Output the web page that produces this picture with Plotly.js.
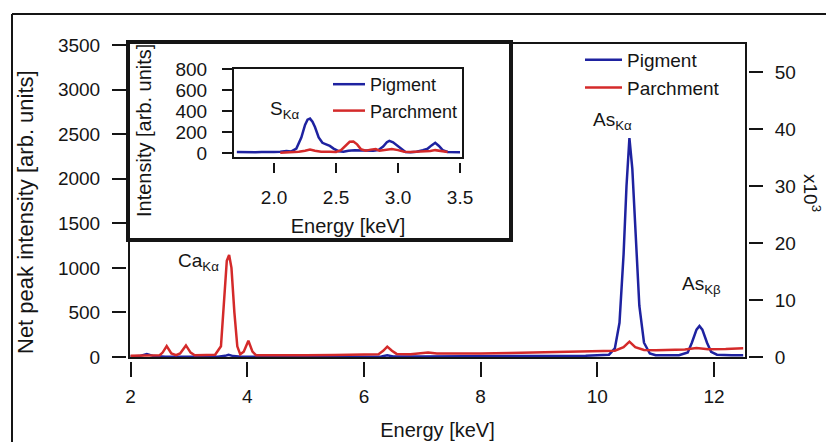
<!DOCTYPE html>
<html><head><meta charset="utf-8">
<script src="https://cdn.plot.ly/plotly-3.0.1.min.js"></script>
<style>html,body{margin:0;padding:0;background:#fff;}#chart{width:826px;height:442px;}</style>
</head><body><div id="chart"></div>
<script>
// ---------- DATA ----------
const mainTickX = [2, 4, 6, 8, 10, 12];
const leftTicks = [0, 500, 1000, 1500, 2000, 2500, 3000, 3500];
const rightTicks = [0, 10, 20, 30, 40, 50];
const insetTickX = [2.0, 2.5, 3.0, 3.5];
const insetTickY = [0, 200, 400, 600, 800];

// Main spectrum, parchment (left axis, arb. units)
const parchmentEnergy = [2.0,2.2,2.4,2.5,2.55,2.62,2.7,2.78,2.85,2.95,3.03,3.1,3.3,3.45,3.55,3.6,3.65,3.69,3.73,3.78,3.83,3.88,3.94,4.02,4.09,4.15,4.5,5.0,5.5,6.0,6.25,6.33,6.4,6.48,6.56,6.8,7.0,7.1,7.25,7.5,8.0,8.5,9.0,9.5,10.0,10.3,10.45,10.55,10.65,10.8,11.0,11.5,11.7,11.9,12.2,12.5];
const parchmentIntensity = [15,15,18,20,50,123,40,20,40,130,50,20,22,25,120,600,1080,1145,1000,500,120,30,60,183,60,20,18,20,22,28,32,70,116,70,35,32,45,50,40,38,40,45,52,58,65,70,110,172,110,78,75,85,100,88,90,98];

// Main spectrum, pigment (right axis, x10^3)
const pigmentEnergy = [2.0,2.15,2.28,2.4,2.6,3.0,3.5,3.62,3.68,3.76,3.9,4.5,5.0,6.0,6.3,6.4,6.5,7.0,8.0,9.0,9.8,10.2,10.3,10.38,10.45,10.5,10.55,10.6,10.65,10.72,10.8,10.9,11.0,11.4,11.55,11.62,11.7,11.75,11.8,11.88,11.95,12.05,12.3,12.5];
const pigmentIntensity = [0.1,0.15,0.5,0.15,0.05,0.05,0.05,0.2,0.4,0.15,0.05,0.02,0.02,0.05,0.1,0.3,0.1,0.1,0.1,0.15,0.2,0.4,1.5,6,18,30,38.4,33,22,9,2.5,0.6,0.3,0.3,0.8,2.5,4.8,5.45,4.8,2.5,0.9,0.4,0.3,0.3];

// Inset (S region)
const insetPigmentEnergy = [1.70,1.75,1.80,1.85,1.90,1.95,2.00,2.05,2.10,2.14,2.18,2.22,2.25,2.27,2.29,2.31,2.33,2.36,2.39,2.42,2.45,2.48,2.52,2.56,2.60,2.65,2.70,2.75,2.80,2.84,2.88,2.91,2.93,2.96,2.99,3.03,3.06,3.10,3.15,3.20,3.24,3.27,3.30,3.33,3.36,3.40,3.45,3.50];
const insetPigmentIntensity = [12,10,14,10,12,10,12,15,22,18,45,150,270,320,330,300,250,150,100,85,70,45,20,15,25,30,28,30,25,30,65,105,118,105,75,35,12,10,15,30,45,75,100,70,30,12,10,10];
const insetParchmentEnergy = [2.05,2.10,2.15,2.20,2.25,2.29,2.33,2.38,2.45,2.50,2.54,2.58,2.61,2.64,2.67,2.70,2.74,2.78,2.82,2.85,2.90,2.95,3.00,3.05,3.10,3.20,3.26,3.30,3.34,3.38,3.40];
const insetParchmentIntensity = [5,8,10,15,25,35,25,15,15,12,30,80,110,112,85,40,25,35,40,25,30,40,30,15,12,15,22,30,25,15,12];

// ---------- STYLE / LAYOUT ----------
const W = 826, H = 442;
const px = x => x / W, py = y => 1 - y / H;
const BLUE = '#1e22a0', RED = '#d42a2a', INK = '#151515';
const FONT = 'Liberation Sans, Arial, sans-serif';

const traces = [
  {x: pigmentEnergy, y: pigmentIntensity, xaxis: 'x', yaxis: 'y2', type: 'scatter', mode: 'lines',
   name: 'Pigment', legend: 'legend', line: {color: BLUE, width: 2.5}},
  {x: parchmentEnergy, y: parchmentIntensity, xaxis: 'x', yaxis: 'y', type: 'scatter', mode: 'lines',
   name: 'Parchment', legend: 'legend', line: {color: RED, width: 2.5}},
  {x: insetPigmentEnergy, y: insetPigmentIntensity, xaxis: 'x3', yaxis: 'y3', type: 'scatter', mode: 'lines',
   name: 'Pigment', legend: 'legend2', line: {color: BLUE, width: 2.5}},
  {x: insetParchmentEnergy, y: insetParchmentIntensity, xaxis: 'x3', yaxis: 'y3', type: 'scatter', mode: 'lines',
   name: 'Parchment', legend: 'legend2', line: {color: RED, width: 2.5}}
];

const axBase = {showgrid: false, zeroline: false, showline: false, ticks: 'outside', tickcolor: INK,
  tickwidth: 2, tickfont: {size: 19, color: INK}, anchor: 'free', fixedrange: true};

function label(x, y, text, extra) {
  return Object.assign({xref: 'paper', yref: 'paper', x: px(x), y: py(y), text: text, showarrow: false,
    xanchor: 'center', yanchor: 'middle', font: {size: 19, color: INK}}, extra || {});
}

const layout = {
  width: W, height: H, margin: {l: 0, r: 0, t: 0, b: 0},
  paper_bgcolor: '#fff', plot_bgcolor: 'rgba(0,0,0,0)',
  font: {family: FONT, size: 19, color: INK},
  showlegend: true,
  xaxis: Object.assign({}, axBase, {domain: [px(129), px(746)], range: [1.974, 12.548],
    position: py(361), tickvals: mainTickX, ticklen: 15, ticklabelstandoff: 3,
    title: {text: 'Energy [keV]', font: {size: 20}, standoff: 17}}),
  yaxis2: Object.assign({}, axBase, {domain: [py(358), py(43)], range: [-0.18, 55.1],
    position: px(748), side: 'right', tickvals: rightTicks, ticklen: 14, ticklabelstandoff: 8}),
  yaxis: Object.assign({}, axBase, {overlaying: 'y2', range: [-11, 3522],
    position: px(126), side: 'left', tickvals: leftTicks, ticklen: 14, ticklabelstandoff: 8}),
  xaxis3: Object.assign({}, axBase, {domain: [px(233), px(463)], range: [1.669, 3.524],
    position: py(162), tickvals: insetTickX, tickformat: '.1f', ticklen: 10, ticklabelstandoff: 8,
    title: {text: 'Energy [keV]', font: {size: 20}, standoff: 12}}),
  yaxis3: Object.assign({}, axBase, {domain: [py(158), py(68)], range: [-44.8, 812],
    position: px(232), tickvals: insetTickY, ticklen: 10, ticklabelstandoff: 11}),
  legend: {x: px(580), y: py(41), xanchor: 'left', yanchor: 'top', bgcolor: 'rgba(0,0,0,0)',
    font: {size: 19, color: INK}, itemwidth: 37, tracegroupgap: 0},
  legend2: {x: px(328), y: py(66), xanchor: 'left', yanchor: 'top', bgcolor: 'rgba(0,0,0,0)',
    font: {size: 18, color: INK}, itemwidth: 32, tracegroupgap: 0},
  shapes: [
    {type: 'line', xref: 'paper', yref: 'paper', x0: px(12), x1: px(12), y0: py(14), y1: 0, line: {color: INK, width: 2}},
    {type: 'line', xref: 'paper', yref: 'paper', x0: px(12), x1: 1, y0: py(14), y1: py(14), line: {color: INK, width: 2}},
    {type: 'rect', xref: 'paper', yref: 'paper', x0: px(129), x1: px(746), y0: py(358), y1: py(43), line: {color: INK, width: 2}},
    {type: 'rect', xref: 'paper', yref: 'paper', x0: px(128), x1: px(511), y0: py(240), y1: py(42), line: {color: INK, width: 4}},
    {type: 'rect', xref: 'paper', yref: 'paper', x0: px(233), x1: px(463), y0: py(158), y1: py(68), line: {color: INK, width: 2}}
  ],
  annotations: [
    label(25, 212, 'Net peak intensity [arb. units]', {textangle: -90, font: {size: 22, color: INK}}),
    label(144, 131, 'Intensity [arb. units]', {textangle: -90, font: {size: 20, color: INK}}),
    label(285, 110, 'S<sub>Kα</sub>'),
    label(198, 262, 'Ca<sub>Kα</sub>'),
    label(612, 121, 'As<sub>Kα</sub>'),
    label(701, 285, 'As<sub>Kβ</sub>'),
    label(812, 193, 'x10<sup>3</sup>', {textangle: 90})
  ]
};

Plotly.newPlot('chart', traces, layout, {staticPlot: true, displayModeBar: false});
</script></body></html>
